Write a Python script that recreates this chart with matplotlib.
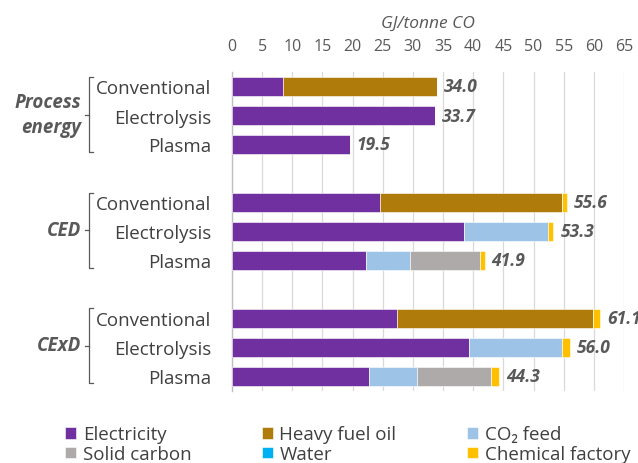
import matplotlib

matplotlib.use("Agg")

import matplotlib.pyplot as plt
import numpy as np

ROUTES = ["Conventional", "Electrolysis", "Plasma"]
GROUPS = ["Process\nenergy", "CED", "CExD"]

COMPONENTS = ["Electricity", "Heavy fuel oil", "CO\u2082 feed", "Solid carbon", "Water", "Chemical factory"]
COLORS = ["#7030A0", "#AF7C0B", "#9DC3E6", "#AEAAAA", "#00B0F0", "#FFC000"]

# GJ/tonne CO, one list per component, order: group x route
electricity = [8.4, 33.7, 19.5, 24.6, 38.5, 22.3, 27.4, 39.3, 22.7]
heavy_fuel_oil = [25.6, 0.0, 0.0, 30.1, 0.0, 0.0, 32.4, 0.0, 0.0]
co2_feed = [0.0, 0.0, 0.0, 0.0, 13.9, 7.2, 0.0, 15.4, 8.0]
solid_carbon = [0.0, 0.0, 0.0, 0.0, 0.0, 11.6, 0.0, 0.0, 12.3]
water = [0.0, 0.0, 0.0, 0.0, 0.0, 0.0, 0.0, 0.0, 0.0]
chemical_factory = [0.0, 0.0, 0.0, 0.9, 0.9, 0.8, 1.3, 1.3, 1.3]
totals = [34.0, 33.7, 19.5, 55.6, 53.3, 41.9, 61.1, 56.0, 44.3]

TEXT = "#404040"
VALUE = "#595959"
FONT = ["Open Sans", "DejaVu Sans"]


def main() -> None:
    plt.rcParams["font.family"] = FONT

    fig = plt.figure(figsize=(6.38, 4.64), dpi=100)
    ax = fig.add_axes([232 / 638, 1 - 392 / 464, 392 / 638, 319 / 464])

    # positions: 3 rows per group, one empty slot between groups
    y = np.array([g * 4 + r for g in range(len(GROUPS)) for r in range(len(ROUTES))], dtype=float)

    series = [electricity, heavy_fuel_oil, co2_feed, solid_carbon, water, chemical_factory]
    left = np.zeros(len(y))
    for name, color, vals in zip(COMPONENTS, COLORS, series):
        vals = np.array(vals, dtype=float)
        ax.barh(y, vals, left=left, height=0.68, color=color, label=name,
                edgecolor="white", linewidth=0.4, zorder=3)
        left += vals

    for yi, tot in zip(y, totals):
        ax.annotate(f"{tot:.1f}", xy=(tot, yi), xytext=(5, 0), textcoords="offset points",
                    va="center", ha="left", fontsize=12.5, fontweight="bold",
                    fontstyle="italic", color=VALUE, annotation_clip=False)

    ax.set_xlim(0, 65)
    ax.set_ylim(10.5, -0.5)
    ax.set_xticks(np.arange(0, 66, 5))
    ax.xaxis.tick_top()
    ax.tick_params(axis="x", length=0, pad=13, labelsize=11.5, labelcolor=VALUE)
    ax.set_xlabel("GJ/tonne CO", fontsize=12.5, fontstyle="italic", color=VALUE, labelpad=8)
    ax.xaxis.set_label_position("top")

    ax.set_yticks(y)
    ax.set_yticklabels(ROUTES * len(GROUPS))
    ax.tick_params(axis="y", length=0, pad=15, labelsize=13.5, labelcolor=TEXT)

    ax.grid(axis="x", color="#D9D9D9", linewidth=0.9, zorder=0)
    for side in ["top", "right", "bottom"]:
        ax.spines[side].set_visible(False)
    ax.spines["left"].set_color("#BFBFBF")
    ax.spines["left"].set_linewidth(1.0)

    # group brackets and labels, drawn in figure pixels
    for g, label in enumerate(GROUPS):
        top_px = 464 - (78 + g * 115.5)
        bot_px = top_px - 75
        mid_px = (top_px + bot_px) / 2
        xs = np.array([93, 89, 89, 93]) / 638
        ys = np.array([top_px, top_px, bot_px, bot_px]) / 464
        fig.add_artist(plt.Line2D(xs, ys, color="#595959", linewidth=0.9))
        fig.add_artist(plt.Line2D([85 / 638, 89 / 638], [mid_px / 464] * 2, color="#595959", linewidth=0.9))
        fig.text(81 / 638, mid_px / 464, label, ha="right", va="center", fontsize=13.5,
                 fontweight="bold", fontstyle="italic", color=VALUE, linespacing=1.3)

    handles, labels = ax.get_legend_handles_labels()
    order = [0, 3, 1, 4, 2, 5]
    fig.legend([handles[i] for i in order], [labels[i] for i in order],
               ncol=3, loc="lower left", bbox_to_anchor=(48 / 638, -17 / 464),
               frameon=False, fontsize=13.5, handlelength=0.6, handleheight=0.6,
               handletextpad=0.35, columnspacing=3.75, labelspacing=0.1,
               labelcolor=TEXT)

    fig.savefig("out.png", dpi=100)
    plt.close(fig)


if __name__ == "__main__":
    main()
